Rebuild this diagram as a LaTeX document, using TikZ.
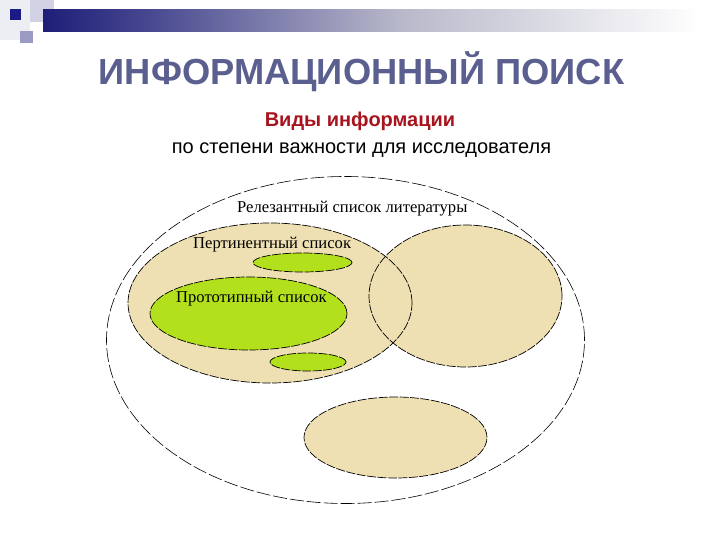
\documentclass[tikz,border=0pt]{standalone}
\usepackage{fontspec}
\setmainfont{Liberation Serif}
\newfontfamily\arialf{Liberation Sans}
\usetikzlibrary{shapes.geometric}
\definecolor{navy}{HTML}{1E1E78}
\definecolor{midbar}{HTML}{B8B8CA}
\definecolor{titlec}{HTML}{5B5F8F}
\definecolor{redc}{HTML}{A8141E}
\definecolor{beige}{HTML}{EEE0B2}
\definecolor{lime}{HTML}{B2E01C}
\tikzset{
  oval/.style={ellipse, inner sep=0pt, draw=black, line width=0.7pt, dash pattern=on 9pt off 1.5pt},
  outerov/.style={ellipse, inner sep=0pt, draw=black, line width=0.6pt, dash pattern=on 14pt off 3pt, fill=white},
  lbl/.style={font=\fontsize{16.6}{19}\selectfont, inner sep=0pt, anchor=west}
}
\begin{document}
\begin{tikzpicture}[x=1pt,y=-1pt]
\useasboundingbox (0,0) rectangle (720,540);
% header decoration
\fill[color=white!92!navy] (0,0) rectangle (30,40);
\fill[color=white!80!navy] (30,0) rectangle (54,22);
\shade[left color=navy, right color=navy!85!white] (43,10) rectangle (130,32);
\shade[left color=navy!85!white, right color=midbar] (130,10) rectangle (400,32);
\shade[left color=midbar, right color=white] (400,10) rectangle (700,32);
\fill[color=navy!90!blue] (10,9) rectangle (21,20);
\fill[color=white!55!navy] (20,31) rectangle (33,43);
% titles
\node[font=\arialf\bfseries\fontsize{36.3}{40}\selectfont, text=titlec] (title) at (361.5,72) {ИНФОРМАЦИОННЫЙ ПОИСК};
\node[font=\arialf\bfseries\fontsize{20}{23}\selectfont, text=redc] (sub1) at (360,121) {Виды информации};
\node[font=\arialf\fontsize{20}{23}\selectfont] (sub2) at (361.5,150) {по степени важности для исследователя};
% outer ellipse
\node[outerov, minimum width=478pt, minimum height=327pt] (outer) at (345.5,340) {};
% beige ellipses fills
\node[ellipse, inner sep=0pt, fill=beige, minimum width=284pt, minimum height=160pt] (leftf) at (270,303) {};
\node[ellipse, inner sep=0pt, fill=beige, minimum width=193pt, minimum height=142pt] (rightf) at (465.5,296) {};
\node[oval, minimum width=284pt, minimum height=160pt] (left) at (270,303) {};
\node[oval, minimum width=193pt, minimum height=142pt] (right) at (465.5,296) {};
% green ovals
\node[oval, fill=lime, minimum width=99pt, minimum height=19pt] (pert) at (302.5,262.5) {};
\node[oval, fill=lime, minimum width=197pt, minimum height=73pt] (proto) at (248.5,313.5) {};
\node[oval, fill=lime, minimum width=76pt, minimum height=18pt] (small) at (308,362) {};
% bottom beige
\node[oval, fill=beige, minimum width=183pt, minimum height=81pt] (bottom) at (395.5,437.5) {};
% labels
\node[lbl] (lrel) at (237,209) {Релезантный список литературы};
\node[lbl] (lpert) at (193,245) {Пертинентный список};
\node[lbl] (lproto) at (176,299) {Прототипный список};
\end{tikzpicture}
\end{document}
